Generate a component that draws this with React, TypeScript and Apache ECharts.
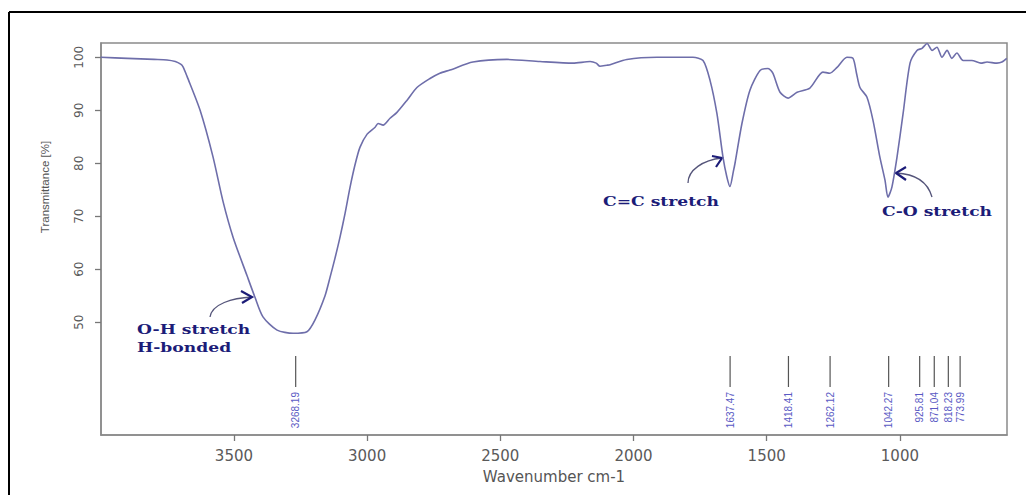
import React, { useEffect, useRef } from "react";
import * as echarts from "echarts";

const wavenumbers = [
  4000, 3900, 3800, 3751, 3720, 3700, 3691, 3676, 3627, 3579, 3541, 3503, 3451, 3421, 3391, 3338,
  3278, 3226, 3196, 3158, 3139, 3121, 3102, 3083, 3064, 3045, 3027,
  3000, 2970, 2959, 2940, 2914, 2888, 2850, 2813, 2764, 2727, 2689, 2603, 2475, 2351,
  2227, 2163, 2140, 2126, 2100, 2088, 2025, 1912, 1777, 1739, 1713, 1687, 1664, 1650, 1638, 1625,
  1619, 1593, 1563, 1525, 1495, 1477, 1450, 1420, 1386, 1338, 1289, 1263, 1236, 1199, 1176, 1163,
  1150, 1124, 1101, 1075, 1056, 1045, 1030, 1011, 988, 962, 936, 917, 898, 879, 861, 842, 823,
  805, 786, 763, 730, 696, 673, 636, 617, 599,
];
const transmittance = [
  100.0, 99.8, 99.6, 99.5, 99.2, 98.7, 98.2, 96.4, 90.0, 81.3, 72.8, 66.0, 58.8, 54.7, 51.0, 48.5,
  47.9, 48.2, 50.4, 55.0, 58.5, 62.0, 66.0, 70.5, 75.5, 79.8, 83.0,
  85.5, 86.8, 87.5, 87.2, 88.5, 89.6, 91.9, 94.3, 96.0, 97.0, 97.6, 99.1, 99.6, 99.2,
  98.9, 99.2, 98.9, 98.3, 98.5, 98.6, 99.6, 100.0, 100.0, 99.4, 95.7, 89.4, 81.1, 77.5, 75.6, 78.5,
  80.0, 87.5, 93.8, 97.5, 97.9, 97.0, 93.4, 92.3, 93.4, 94.2, 97.2, 97.0, 98.1, 100.0, 99.8, 97.0,
  94.3, 92.5, 88.1, 81.1, 76.8, 73.6, 75.5, 81.1, 89.4, 98.9, 101.3, 101.7, 102.6, 101.3, 101.9,
  100.0, 101.3, 99.8, 100.8, 99.4, 99.4, 98.9, 99.1, 98.9, 99.1, 99.8,
];
const peakWavenumbers = [3268.19, 1637.47, 1418.41, 1262.12, 1042.27, 925.81, 871.04, 818.23, 773.99];
const peakLabels = ["3268.19", "1637.47", "1418.41", "1262.12", "1042.27", "925.81", "871.04", "818.23", "773.99"];
const xTicks = [3500, 3000, 2500, 2000, 1500, 1000];
const yTicks = [50, 60, 70, 80, 90, 100];
const annotations = ["O-H stretch", "H-bonded", "C=C stretch", "C-O stretch"];

const X_MIN = 598;
const X_MAX = 3999;
const Y_MIN = 28.7;
const Y_MAX = 102.7;

const NAVY = "#1c1c78";
const ARROW_TAIL = "#55557a";

function arrow(x1: number, y1: number, cx1: number, cy1: number, cx2: number, cy2: number, x2: number, y2: number, a1: number[], a2: number[]) {
  return [
    {
      type: "bezierCurve",
      shape: { x1, y1, cpx1: cx1, cpy1: cy1, cpx2: cx2, cpy2: cy2, x2, y2 },
      style: { stroke: ARROW_TAIL, lineWidth: 1.3, fill: "none" },
      silent: true,
    },
    {
      type: "polyline",
      shape: { points: [a1, [x2, y2], a2] },
      style: { stroke: NAVY, lineWidth: 2.2, fill: "none" },
      silent: true,
    },
  ];
}

function annText(text: string, x: number, y: number) {
  return {
    type: "text",
    x,
    y,
    scaleX: 1.32,
    style: {
      text,
      fill: NAVY,
      font: "bold 13px 'DejaVu Serif'",
      textAlign: "left",
      textVerticalAlign: "middle",
    },
    silent: true,
  };
}

export default function App() {
  const ref = useRef<HTMLDivElement>(null);
  useEffect(() => {
    if (!ref.current) return;
    const chart = echarts.init(ref.current, undefined, { renderer: "svg" });
    const data = wavenumbers.map((w, i) => [w, transmittance[i]]);
    const peaks = peakWavenumbers.map((w, i) => [w, Y_MIN, peakLabels[i]]);
    chart.setOption({
      animation: false,
      backgroundColor: "#ffffff",
      grid: {
        left: 93,
        right: 27,
        top: 35,
        bottom: 60,
        show: true,
        borderColor: "#8a8a8a",
        borderWidth: 1.5,
        backgroundColor: "transparent",
      },
      xAxis: {
        type: "value",
        inverse: true,
        min: X_MIN,
        max: X_MAX,
        name: "Wavenumber cm-1",
        nameLocation: "middle",
        nameGap: 34,
        nameTextStyle: { color: "#555", fontSize: 15, fontFamily: "DejaVu Sans" },
        axisLine: { show: true, onZero: false, lineStyle: { color: "#8a8a8a", width: 1.5 } },
        axisTick: { show: true, inside: false, length: 6, customValues: xTicks, lineStyle: { color: "#777", width: 1.3 } },
        axisLabel: {
          customValues: xTicks,
          margin: 13,
          color: "#5a5a5a",
          fontSize: 15,
          fontFamily: "DejaVu Sans",
          formatter: (v: number) => String(v),
        },
        splitLine: { show: false },
      },
      yAxis: {
        type: "value",
        min: Y_MIN,
        max: Y_MAX,
        axisLine: { show: true, onZero: false, lineStyle: { color: "#8a8a8a", width: 1.5 } },
        axisTick: { show: true, inside: false, length: 6, customValues: yTicks, lineStyle: { color: "#777", width: 1.3 } },
        axisLabel: {
          customValues: yTicks,
          rotate: 90,
          margin: 16,
          color: "#5a5a5a",
          fontSize: 12,
          fontFamily: "DejaVu Sans",
          formatter: (v: number) => String(v),
        },
        splitLine: { show: false },
      },
      series: [
        {
          type: "line",
          data,
          showSymbol: false,
          smooth: 0.25,
          lineStyle: { color: "#6e6eaa", width: 1.6 },
          silent: true,
          clip: false,
        },
        {
          type: "custom",
          data: peaks,
          silent: true,
          renderItem: (params: any, api: any) => {
            const p = api.coord([api.value(0), api.value(1)]);
            const x = p[0];
            const bottom = p[1];
            return {
              type: "group",
              children: [
                {
                  type: "line",
                  shape: { x1: x, y1: bottom - 79, x2: x, y2: bottom - 48 },
                  style: { stroke: "#555", lineWidth: 1.2 },
                },
                {
                  type: "text",
                  x: x,
                  y: bottom - 43,
                  rotation: Math.PI / 2,
                  style: {
                    text: peakLabels[params.dataIndex],
                    fill: "#5a5ac4",
                    font: "10px 'Liberation Sans'",
                    textAlign: "right",
                    textVerticalAlign: "middle",
                  },
                },
              ],
            };
          },
        },
      ],
      graphic: [
        { type: "line", shape: { x1: 1, y1: 4, x2: 1026, y2: 4 }, style: { stroke: "#000", lineWidth: 2 }, silent: true },
        { type: "line", shape: { x1: 1, y1: 4, x2: 1, y2: 487 }, style: { stroke: "#000", lineWidth: 2 }, silent: true },
        {
          type: "text",
          x: 37,
          y: 179,
          rotation: Math.PI / 2,
          style: {
            text: "Transmittance [%]",
            fill: "#555",
            font: "11.5px 'Liberation Sans'",
            textAlign: "center",
            textVerticalAlign: "middle",
          },
          silent: true,
        },
        annText(annotations[0], 129, 322),
        annText(annotations[1], 129, 340),
        annText(annotations[2], 595, 194),
        annText(annotations[3], 874, 204),
        ...arrow(202, 309, 204, 296, 224, 290, 244, 289, [233, 283], [234, 295]),
        ...arrow(680, 175, 680, 162, 695, 152, 714, 150, [704, 148], [708, 159]),
        ...arrow(924, 189, 920, 175, 910, 166, 888, 165, [898, 159], [898, 172]),
      ],
    });
    return () => chart.dispose();
  }, []);
  return <div ref={ref} style={{ width: 1026, height: 487 }} />;
}
